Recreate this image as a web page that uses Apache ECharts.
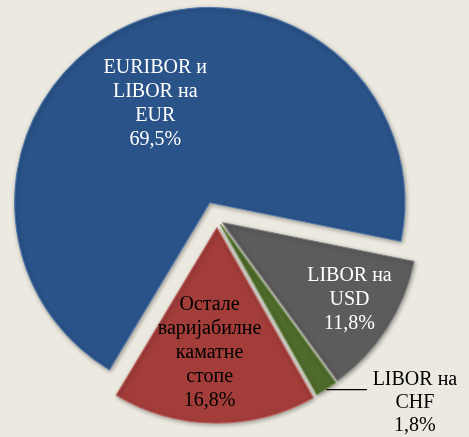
<!DOCTYPE html>
<html>
<head>
<meta charset="utf-8">
<script src="https://cdn.jsdelivr.net/npm/echarts@6/dist/echarts.min.js"></script>
<style>
html,body{margin:0;padding:0;background:#ECEAE0;}
#chart{width:469px;height:437px;}
</style>
</head>
<body>
<div id="chart"></div>
<script>
// ---- data ----
const categories = ['EURIBOR и\nLIBOR на\nEUR', 'LIBOR на\nUSD', 'LIBOR на\nCHF', 'Остале\nваријабилне\nкаматне\nстопе'];
const values = [69.5, 11.8, 1.8, 16.8];

// ---- styles ----
const colors = ['#2A5389', '#5C5C5C', '#4F6B2B', '#A23D3A'];
const rimColors = ['#4A72A8', '#7A7A7A', '#6A8A45', '#BE5A56'];
const textColors = ['#FFFFFF', '#FFFFFF', '#000000', '#000000'];
const offsets = [18, 7, 7, 9];
const labelShift = [[-14, -7], [42, 23], [0, 0], [-6, 24]];
const outsideLabel = [false, false, true, false];

const fmt = v => v.toFixed(1).replace('.', ',') + '%';
const font = '"Liberation Serif", "Times New Roman", serif';

const chart = echarts.init(document.getElementById('chart'), null, {renderer: 'canvas'});

const series = categories.map((_, k) => ({
  type: 'pie',
  center: [217, 219],
  radius: 195,
  startAngle: 239,
  clockwise: true,
  selectedMode: 'multiple',
  selectedOffset: offsets[k],
  avoidLabelOverlap: false,
  silent: true,
  animation: false,
  z: k === 0 ? 1 : 2,
  labelLayout: outsideLabel[k] ? undefined : {dx: labelShift[k][0], dy: labelShift[k][1]},
  data: values.map((v, i) => ({
    name: categories[i],
    value: v,
    selected: i === k,
    itemStyle: i === k ? {
      color: colors[i],
      borderColor: rimColors[i],
      borderWidth: 1.2,
      shadowBlur: 4,
      shadowColor: 'rgba(0,0,0,0.35)',
      shadowOffsetX: 1,
      shadowOffsetY: 1.5
    } : {color: 'rgba(0,0,0,0)'},
    label: i === k ? (outsideLabel[i] ? {
      show: true,
      position: 'outside',
      formatter: p => p.name.split('\n').concat([fmt(p.value)]).map(s => '{c|' + s + '}').join('\n'),
      padding: [27, 0, 0, 0],
      distanceToLabelLine: 3,
      rich: {c: {fontFamily: font, fontSize: 20, lineHeight: 23, color: textColors[i], width: 90, align: 'center'}}
    } : {
      show: true,
      position: 'inside',
      formatter: p => p.name + '\n' + fmt(p.value),
      fontFamily: font,
      fontSize: 20,
      lineHeight: 24,
      color: textColors[i],
      align: 'center'
    }) : {show: false},
    labelLine: i === k && outsideLabel[i] ? {
      show: true, length: 1, length2: 40,
      lineStyle: {color: '#000', width: 1.3}
    } : {show: false}
  }))
}));

chart.setOption({
  backgroundColor: '#ECEAE0',
  series: series
});
</script>
</body>
</html>
